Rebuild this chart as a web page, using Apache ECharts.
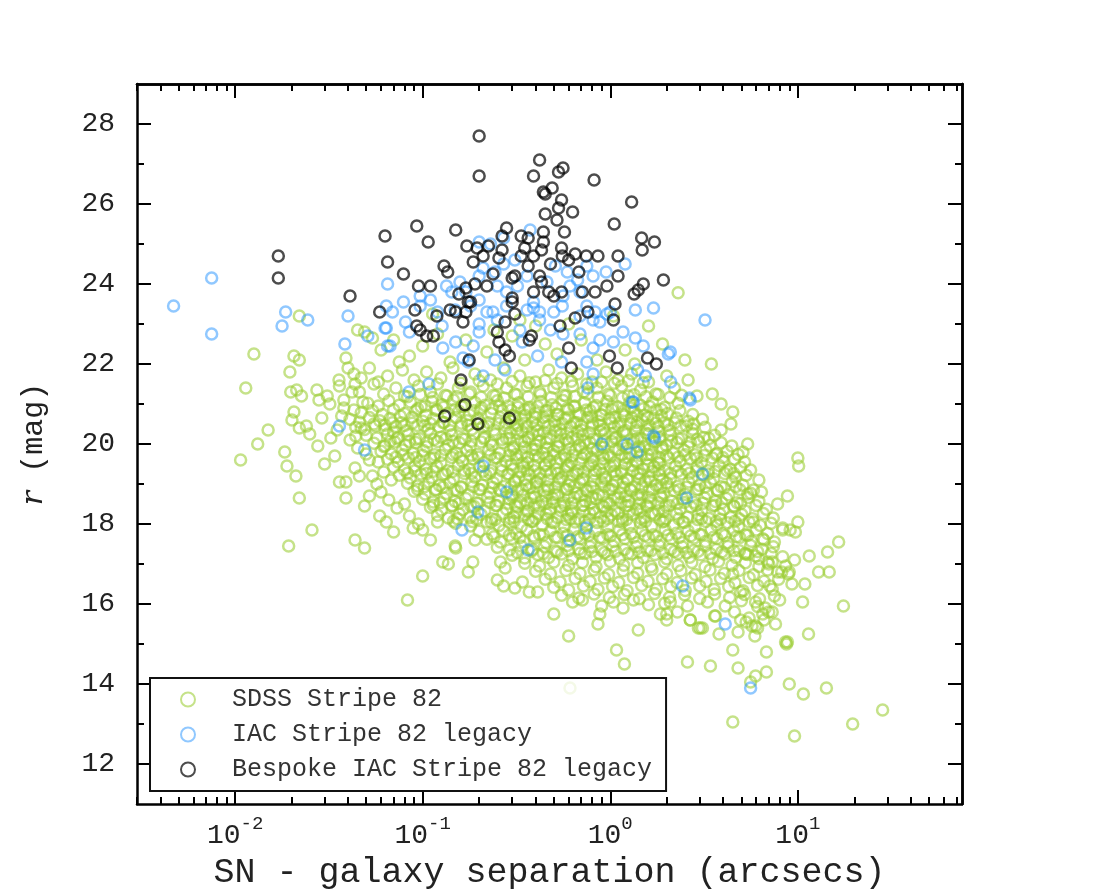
<!DOCTYPE html>
<html>
<head>
<meta charset="utf-8">
<script src="https://cdn.jsdelivr.net/npm/echarts@6/dist/echarts.min.js"></script>
<style>
  html, body { margin: 0; padding: 0; background: #fff; }
  #main { width: 1100px; height: 889px; }
</style>
</head>
<body>
<div id="main"></div>
<script>
// tick values
var xMajor = [0.01, 0.1, 1, 10];
var xMinor = [0.003, 0.004, 0.005, 0.006, 0.007, 0.008, 0.009,
  0.02, 0.03, 0.04, 0.05, 0.06, 0.07, 0.08, 0.09,
  0.2, 0.3, 0.4, 0.5, 0.6, 0.7, 0.8, 0.9,
  2, 3, 4, 5, 6, 7, 8, 9, 20, 30, 40, 50, 60, 70];
var yMajor = [12, 14, 16, 18, 20, 22, 24, 26, 28];
var yMinor = [13, 15, 17, 19, 21, 23, 25, 27];

// SDSS Stripe 82 (separation arcsec, r mag) - outer parts and first pass over the cloud
var sdssOuter = [
  [2.3,23.78],[1.04,23.2],[0.113,23.25],[0.6,23.0],[0.33,23.1],[1.6,22.95],[0.022,23.2],[0.045,22.85],
  [0.0126,22.25],[0.0206,22.2],[0.022,22.1],[0.039,22.15],[0.049,22.8],[0.054,22.65],[0.07,22.6],[0.085,22.2],
  [0.1,22.45],[0.14,22.05],[0.17,22.6],[0.22,22.3],[0.3,22.7],[0.35,22.1],[0.45,22.5],[0.52,22.25],[0.7,22.6],
  [0.85,22.1],[1.2,22.35],[1.35,22.0],[1.9,22.5],[2.5,22.1],[3.46,22.0],[0.075,22.05],[0.06,22.35],[0.12,22.75],
  [0.24,22.85],[0.4,22.95],
  [0.0196,21.8],[0.0358,21.6],[0.043,21.75],[0.052,21.9],[0.065,21.7],[0.078,21.85],[0.09,21.6],[0.105,21.8],
  [0.125,21.65],[0.145,21.9],[0.19,21.75],[0.23,21.6],[0.27,21.9],[0.33,21.7],[0.4,21.55],[0.47,21.85],[0.55,21.65],
  [0.67,21.75],[0.8,21.55],[0.95,21.8],[1.1,21.6],[1.3,21.75],[1.6,21.55],[2.0,21.7],[2.6,21.6],[0.0114,21.4],[3.5,21.25],
  [0.0198,21.3],[0.0213,21.35],[0.0226,21.2],[0.0273,21.35],[0.028,21.1],[0.031,21.2],[0.036,21.45],[0.046,21.3],
  [0.055,21.5],[0.062,21.25],[0.072,21.4],[0.08,21.2],[0.095,21.45],[0.11,21.3],[0.12,21.5],[0.135,21.2],[0.155,21.4],
  [0.18,21.3],[0.21,21.45],[0.245,21.2],[0.28,21.4],[0.31,21.25],[0.36,21.45],[0.42,21.3],[0.5,21.4],[0.58,21.2],
  [0.63,21.45],[0.72,21.3],[0.85,21.4],[0.98,21.25],[1.15,21.45],[1.25,21.2],[1.45,21.35],[1.75,21.25],[2.2,21.4],[2.9,21.2],
  [0.051,21.02],[0.058,20.95],[0.066,21.08],[0.075,20.97],[0.086,21.05],[0.098,20.93],[0.112,21.06],[0.127,20.98],
  [0.146,21.1],[0.166,20.94],[0.19,21.04],[0.215,20.97],[0.25,21.08],[0.285,20.95],[0.325,21.03],[0.37,20.92],
  [0.425,21.06],[0.49,20.98],[0.56,21.09],[0.64,20.94],[0.73,21.03],[0.84,20.96],[0.96,21.07],[1.1,20.93],[1.27,21.04],
  [1.45,20.97],[1.68,21.05],[1.95,20.92],[2.3,21.02],[3.9,21.0],
  [0.0206,20.8],[0.029,20.65],[0.043,20.85],[0.047,20.78],[0.054,20.84],[0.061,20.74],[0.07,20.86],[0.08,20.76],
  [0.092,20.83],[0.104,20.72],[0.119,20.86],[0.136,20.77],[0.156,20.82],[0.178,20.73],[0.203,20.85],[0.232,20.76],
  [0.265,20.84],[0.305,20.72],[0.35,20.86],[0.4,20.77],[0.455,20.83],[0.52,20.74],[0.6,20.85],[0.68,20.76],[0.78,20.84],
  [0.89,20.73],[1.02,20.86],[1.17,20.75],[1.34,20.83],[1.53,20.72],[1.76,20.85],[2.02,20.76],[2.35,20.83],[2.75,20.74],[4.5,20.8],
  [0.0201,20.6],[0.022,20.4],[0.024,20.45],[0.035,20.35],[0.041,20.62],[0.046,20.55],[0.052,20.66],[0.059,20.58],
  [0.067,20.64],[0.077,20.53],[0.088,20.67],[0.1,20.57],[0.114,20.63],[0.13,20.54],[0.15,20.66],[0.172,20.58],
  [0.197,20.64],[0.225,20.53],[0.258,20.66],[0.295,20.57],[0.337,20.63],[0.385,20.55],[0.44,20.67],[0.505,20.56],
  [0.575,20.64],[0.66,20.54],[0.755,20.66],[0.865,20.57],[0.99,20.63],[1.13,20.53],[1.3,20.66],[1.48,20.58],[1.7,20.64],
  [1.95,20.54],[2.25,20.65],[2.6,20.57],[3.1,20.62],[4.4,20.5],
  [0.015,20.35],[0.025,20.25],[0.0324,20.15],[0.044,20.42],[0.049,20.36],[0.056,20.45],[0.063,20.37],[0.072,20.44],
  [0.082,20.34],[0.094,20.46],[0.107,20.36],[0.122,20.43],[0.14,20.33],[0.16,20.45],[0.183,20.37],[0.21,20.44],
  [0.24,20.35],[0.275,20.46],[0.315,20.36],[0.36,20.43],[0.41,20.34],[0.47,20.45],[0.54,20.36],[0.615,20.44],
  [0.705,20.35],[0.805,20.46],[0.92,20.37],[1.05,20.43],[1.2,20.34],[1.38,20.45],[1.58,20.36],[1.8,20.44],[2.07,20.35],
  [2.38,20.45],[2.75,20.37],[3.2,20.42],[3.9,20.35],
  [0.0132,20.0],[0.0276,19.95],[0.05,20.22],[0.057,20.15],[0.065,20.25],[0.074,20.16],[0.084,20.24],[0.096,20.14],
  [0.11,20.26],[0.125,20.17],[0.143,20.23],[0.163,20.13],[0.187,20.25],[0.213,20.16],[0.244,20.24],[0.28,20.14],
  [0.32,20.26],[0.365,20.17],[0.418,20.23],[0.478,20.14],[0.545,20.25],[0.625,20.16],[0.715,20.24],[0.815,20.13],
  [0.935,20.26],[1.07,20.16],[1.22,20.24],[1.4,20.14],[1.6,20.25],[1.83,20.17],[2.1,20.23],[2.4,20.14],[2.75,20.26],
  [3.15,20.16],[3.6,20.22],[5.4,20.0],
  [0.055,20.02],[0.062,19.94],[0.071,20.05],[0.081,19.96],[0.092,20.04],[0.105,19.93],[0.12,20.06],[0.137,19.97],
  [0.157,20.03],[0.179,19.94],[0.205,20.05],[0.234,19.96],[0.268,20.04],[0.306,19.93],[0.35,20.06],[0.4,19.97],
  [0.457,20.03],[0.522,19.94],[0.597,20.05],[0.682,19.96],[0.78,20.04],[0.892,19.93],[1.02,20.06],[1.165,19.97],
  [1.33,20.03],[1.52,19.94],[1.74,20.05],[1.99,19.96],[2.27,20.04],[2.6,19.93],[2.97,20.05],[3.4,19.96],[3.9,20.03],
  [4.45,19.95],[5.1,19.8],
  [0.0184,19.8],[0.0107,19.6],[0.06,19.82],[0.068,19.75],[0.078,19.85],[0.089,19.76],[0.101,19.84],[0.116,19.73],
  [0.132,19.86],[0.151,19.77],[0.172,19.83],[0.197,19.74],[0.225,19.85],[0.257,19.76],[0.294,19.84],[0.336,19.73],
  [0.384,19.86],[0.438,19.77],[0.5,19.83],[0.572,19.74],[0.654,19.85],[0.747,19.76],[0.853,19.84],[0.975,19.73],
  [1.11,19.86],[1.27,19.77],[1.45,19.83],[1.66,19.74],[1.9,19.85],[2.17,19.76],[2.48,19.84],[2.83,19.73],[3.24,19.85],
  [3.7,19.76],[4.2,19.82],[4.8,19.74],[10,19.65],
  [0.0189,19.45],[0.0436,19.4],[0.065,19.62],[0.074,19.55],[0.084,19.65],[0.096,19.56],[0.11,19.64],[0.125,19.53],
  [0.143,19.66],[0.163,19.57],[0.186,19.63],[0.213,19.54],[0.243,19.65],[0.278,19.56],[0.318,19.64],[0.363,19.53],
  [0.415,19.66],[0.474,19.57],[0.542,19.63],[0.619,19.54],[0.707,19.65],[0.808,19.56],[0.923,19.64],[1.055,19.53],
  [1.2,19.66],[1.375,19.57],[1.57,19.63],[1.8,19.54],[2.05,19.65],[2.35,19.56],[2.68,19.64],[3.06,19.53],[3.5,19.65],
  [4.0,19.56],[4.6,19.62],[5.2,19.55],[10.1,19.45],
  [0.0211,19.2],[0.054,19.2],[0.07,19.42],[0.08,19.35],[0.091,19.45],[0.104,19.36],[0.119,19.44],[0.136,19.33],
  [0.155,19.46],[0.177,19.37],[0.202,19.43],[0.231,19.34],[0.264,19.45],[0.302,19.36],[0.345,19.44],[0.394,19.33],
  [0.45,19.46],[0.514,19.37],[0.588,19.43],[0.672,19.34],[0.768,19.45],[0.877,19.36],[1.0,19.44],[1.145,19.33],
  [1.31,19.46],[1.495,19.37],[1.71,19.43],[1.95,19.34],[2.23,19.45],[2.55,19.36],[2.91,19.44],[3.33,19.33],[3.8,19.46],
  [4.35,19.37],[4.95,19.42],[5.6,19.35],
  [0.036,19.05],[0.039,19.05],[0.075,19.22],[0.086,19.15],[0.098,19.25],[0.112,19.16],[0.128,19.24],[0.146,19.13],
  [0.167,19.26],[0.19,19.17],[0.217,19.23],[0.248,19.14],[0.284,19.25],[0.324,19.16],[0.37,19.24],[0.423,19.13],
  [0.483,19.26],[0.552,19.17],[0.63,19.23],[0.72,19.14],[0.823,19.25],[0.94,19.16],[1.075,19.24],[1.228,19.13],
  [1.4,19.26],[1.6,19.17],[1.83,19.23],[2.09,19.14],[2.39,19.25],[2.73,19.16],[3.12,19.24],[3.56,19.13],[4.07,19.26],
  [4.65,19.17],[5.3,19.22],[6.2,19.1],
  [0.083,19.02],[0.094,18.95],[0.108,19.05],[0.123,18.96],[0.14,19.04],[0.16,18.93],[0.183,19.06],[0.208,18.97],
  [0.238,19.03],[0.272,18.94],[0.31,19.05],[0.355,18.96],[0.405,19.04],[0.463,18.93],[0.528,19.06],[0.603,18.97],
  [0.69,19.03],[0.788,18.94],[0.9,19.05],[1.03,18.96],[1.175,19.04],[1.345,18.93],[1.535,19.06],[1.755,18.97],
  [2.0,19.03],[2.29,18.94],[2.62,19.05],[2.99,18.96],[3.42,19.04],[3.9,18.93],[4.47,19.06],[5.1,18.97],[5.8,18.85],
  [0.022,18.65],[0.039,18.65],[0.09,18.82],[0.103,18.75],[0.117,18.85],[0.134,18.76],[0.153,18.84],[0.175,18.73],
  [0.2,18.86],[0.228,18.77],[0.261,18.83],[0.298,18.74],[0.34,18.85],[0.389,18.76],[0.444,18.84],[0.507,18.73],
  [0.58,18.86],[0.662,18.77],[0.757,18.83],[0.864,18.74],[0.987,18.85],[1.128,18.76],[1.29,18.84],[1.473,18.73],
  [1.683,18.86],[1.923,18.77],[2.2,18.83],[2.51,18.74],[2.87,18.85],[3.28,18.76],[3.75,18.84],[4.28,18.73],[4.9,18.86],
  [5.6,18.77],[6.4,18.8],[8.8,18.7],
  [0.049,18.45],[0.1,18.62],[0.114,18.55],[0.13,18.65],[0.149,18.56],[0.17,18.64],[0.194,18.53],[0.222,18.66],
  [0.254,18.57],[0.29,18.63],[0.331,18.54],[0.378,18.65],[0.432,18.56],[0.493,18.64],[0.564,18.53],[0.644,18.66],
  [0.736,18.57],[0.84,18.63],[0.96,18.54],[1.097,18.65],[1.253,18.56],[1.432,18.64],[1.636,18.53],[1.87,18.66],
  [2.136,18.57],[2.44,18.63],[2.79,18.54],[3.19,18.65],[3.64,18.56],[4.16,18.64],[4.75,18.53],[5.43,18.66],[6.2,18.57],
  [0.059,18.2],[0.11,18.42],[0.126,18.35],[0.144,18.45],[0.164,18.36],[0.188,18.44],[0.214,18.33],[0.245,18.46],
  [0.28,18.37],[0.32,18.43],[0.365,18.34],[0.417,18.45],[0.477,18.36],[0.545,18.44],[0.622,18.33],[0.711,18.46],
  [0.812,18.37],[0.928,18.43],[1.06,18.34],[1.21,18.45],[1.385,18.36],[1.58,18.44],[1.806,18.33],[2.063,18.46],
  [2.357,18.37],[2.69,18.43],[3.075,18.34],[3.513,18.45],[4.01,18.36],[4.58,18.44],[5.23,18.33],[5.98,18.46],[6.8,18.37],
  [0.064,18.05],[0.12,18.22],[0.137,18.15],[0.157,18.25],[0.179,18.16],[0.205,18.24],[0.234,18.13],[0.268,18.26],
  [0.306,18.17],[0.35,18.23],[0.4,18.14],[0.457,18.25],[0.522,18.16],[0.596,18.24],[0.681,18.13],[0.778,18.26],
  [0.889,18.17],[1.015,18.23],[1.16,18.14],[1.325,18.25],[1.513,18.16],[1.73,18.24],[1.975,18.13],[2.257,18.26],
  [2.58,18.17],[2.945,18.23],[3.365,18.14],[3.845,18.25],[4.39,18.16],[5.02,18.24],[5.73,18.13],[6.55,18.26],[7.4,18.15],[10,18.05],
  [0.0257,17.85],[0.07,17.8],[0.15,18.02],[0.18,17.95],[0.22,18.05],[0.255,17.96],[0.29,18.04],[0.335,17.93],
  [0.38,18.06],[0.435,17.97],[0.5,18.03],[0.57,17.94],[0.65,18.05],[0.745,17.96],[0.85,18.04],[0.97,17.93],[1.11,18.06],
  [1.27,17.97],[1.45,18.03],[1.66,17.94],[1.9,18.05],[2.17,17.96],[2.48,18.04],[2.83,17.93],[3.24,18.06],[3.7,17.97],
  [4.23,18.03],[4.83,17.94],[5.5,18.05],[6.3,17.96],[7.2,18.02],[9.1,17.85],[9.7,17.8],
  [0.2,17.82],[0.235,17.75],[0.27,17.84],[0.315,17.76],[0.36,17.85],[0.42,17.74],[0.48,17.83],[0.56,17.77],[0.64,17.86],
  [0.73,17.75],[0.84,17.83],[0.97,17.74],[1.12,17.85],[1.29,17.76],[1.48,17.84],[1.7,17.73],[1.96,17.86],[2.25,17.77],
  [2.6,17.83],[3.0,17.74],[3.45,17.85],[3.95,17.76],[4.55,17.84],[5.25,17.73],[6.0,17.85],[6.9,17.76],
  [0.0436,17.6],[0.049,17.4],[0.0193,17.45],[0.22,17.62],[0.26,17.55],[0.3,17.64],[0.345,17.56],[0.395,17.65],
  [0.455,17.54],[0.525,17.66],[0.6,17.57],[0.69,17.63],[0.79,17.54],[0.91,17.65],[1.05,17.56],[1.2,17.64],[1.39,17.53],
  [1.6,17.66],[1.84,17.57],[2.12,17.63],[2.44,17.54],[2.8,17.65],[3.22,17.56],[3.7,17.64],[4.25,17.53],[4.9,17.66],
  [5.65,17.57],[6.5,17.63],[7.5,17.55],[16.5,17.55],
  [0.25,17.42],[0.29,17.35],[0.335,17.45],[0.385,17.36],[0.445,17.44],[0.51,17.33],[0.59,17.46],[0.68,17.37],[0.78,17.43],
  [0.9,17.34],[1.03,17.45],[1.19,17.36],[1.37,17.44],[1.58,17.33],[1.82,17.46],[2.1,17.37],[2.42,17.43],[2.78,17.34],
  [3.2,17.45],[3.68,17.36],[4.24,17.44],[4.88,17.33],[5.6,17.46],[6.45,17.37],[7.4,17.43],[14.4,17.3],[11.5,17.2],
  [0.3,17.22],[0.35,17.15],[0.41,17.24],[0.47,17.16],[0.55,17.25],[0.63,17.13],[0.73,17.26],[0.84,17.17],[0.97,17.23],
  [1.12,17.14],[1.3,17.25],[1.5,17.16],[1.73,17.24],[2.0,17.13],[2.3,17.26],[2.65,17.17],[3.05,17.23],[3.52,17.14],
  [4.05,17.25],[4.67,17.16],[5.4,17.24],[6.2,17.13],[7.2,17.26],[8.3,17.18],
  [0.1,16.7],[0.15,17.4],[0.19,17.6],[0.128,17.05],[0.137,17.0],[0.175,16.8],[0.185,17.05],[0.149,17.45],[0.26,17.05],
  [0.275,16.9],[0.27,16.45],[0.34,16.55],[0.41,16.3],[0.089,17.9],[0.11,17.6],[0.12,18.05],
  [0.35,17.02],[0.42,16.95],[0.5,17.05],[0.6,16.96],[0.71,17.04],[0.84,16.93],[1.0,17.06],[1.18,16.97],[1.4,17.03],
  [1.65,16.94],[1.95,17.05],[2.3,16.96],[2.72,17.04],[3.2,16.93],[3.78,17.06],[4.46,16.97],[5.25,17.03],[6.2,16.94],
  [7.3,17.05],[8.6,16.95],
  [0.4,16.82],[0.48,16.75],[0.58,16.84],[0.69,16.76],[0.82,16.85],[0.98,16.74],[1.17,16.83],[1.4,16.77],[1.67,16.86],
  [2.0,16.75],[2.38,16.83],[2.84,16.74],[3.4,16.85],[4.05,16.76],[4.85,16.84],[5.8,16.73],[6.9,16.85],[8.9,16.75],
  [12.9,16.8],[14.7,16.8],[9.0,16.8],
  [0.25,16.6],[0.45,16.62],[0.54,16.55],[0.65,16.64],[0.78,16.56],[0.93,16.65],[1.11,16.54],[1.33,16.66],[1.59,16.57],
  [1.9,16.63],[2.27,16.54],[2.71,16.65],[3.24,16.56],[3.87,16.64],[4.62,16.53],[5.5,16.66],[6.6,16.57],[7.9,16.62],
  [0.31,16.4],[0.37,16.3],[0.5,16.42],[0.6,16.35],[0.72,16.45],[0.86,16.36],[1.03,16.44],[1.23,16.33],[1.47,16.46],
  [1.76,16.37],[2.1,16.43],[2.51,16.34],[3.0,16.45],[3.58,16.36],[4.28,16.44],[5.1,16.33],[6.1,16.46],[7.3,16.37],[10.9,16.5],
  [0.55,16.22],[0.68,16.15],[0.82,16.25],[0.99,16.16],[1.19,16.24],[1.43,16.13],[1.72,16.26],[2.07,16.17],[2.49,16.23],
  [3.0,16.14],[3.6,16.25],[4.33,16.16],[5.2,16.24],[6.25,16.13],[7.5,16.2],
  [0.083,16.1],[0.63,16.05],[0.71,16.1],[0.9,15.95],[1.04,16.05],[1.17,15.9],[1.33,16.1],[1.6,15.98],[1.95,16.02],
  [2.58,15.95],[3.3,16.05],[4.1,15.95],[5.0,16.08],[6.1,15.94],[7.3,15.8],[10.6,16.05],[17.5,15.95],
  [0.5,15.75],[0.88,15.75],[1.85,15.75],[2.0,15.6],[2.28,15.8],[2.67,15.6],[3.6,15.7],[4.6,15.8],[5.5,15.65],[6.5,15.75],
  [0.86,15.5],[1.41,15.35],[2.95,15.4],[3.1,15.4],[4.8,15.3],[5.7,15.45],[6.1,15.4],[0.6,15.2],[11.4,15.25],[8.8,15.05],
  [3.8,15.25],[5.3,15.55],[6.6,15.6],
  [1.08,14.85],[1.19,14.5],[2.58,14.55],[3.42,14.45],[4.8,14.4],[4.5,14.85],[5.95,14.2],[6.8,14.3],[5.6,14.05],
  [9.0,14.0],[10.7,13.75],[14.2,13.9],[8.7,15.0],[0.61,13.9],
  [28.3,13.35],[19.6,13.0],[4.5,13.05],[9.6,12.7],
  [7.8,18.5],[8.3,17.9],[7.1,16.45],[8.0,16.1],[9.3,16.5],[6.7,15.9],[7.6,15.5],[8.2,16.8],[9.6,17.1],[7.0,17.0],
  [5.9,15.2],[6.8,14.8],[5.4,18.75],[8.3,17.85],[6.6,17.6],[5.95,17.2],[6.9,17.05],[7.8,16.8],[4.95,16.3],[5.95,16.05],
  [7.0,15.8],[5.95,15.45],[4.95,15.6],[4.5,16.75],[5.25,17.25],[3.64,15.7],[3.02,15.4],[2.67,15.6],[2.0,15.75],
  [2.09,16.05],[8.6,15.05],
  [0.032,21.0],[0.037,20.7],[0.041,20.1],[0.034,19.7],[0.045,19.9],[0.047,20.4],[0.038,21.1],[0.042,21.3],[0.048,21.05],
  [0.052,19.6],[0.046,19.2],[0.057,19.0],[0.06,18.8],[0.066,18.6],[0.073,18.4],[0.08,18.5],[0.052,18.7],[0.085,18.2],
  [0.095,18.0],[0.1,17.85],[0.062,19.3],[0.068,19.1],[0.03,19.5],[0.04,21.9],[0.047,21.65],[0.058,21.55],[0.038,20.9],
  [0.055,20.5],[0.044,20.2],[0.05,19.75],[0.058,19.55],[0.063,19.95],[0.07,20.3],[0.076,20.7],[0.0436,21.5]
];

// SDSS Stripe 82 - second pass over the dense core
var sdssCore = [
  [0.083,21.18],[0.097,21.24],[0.113,21.16],[0.132,21.22],[0.152,21.19],[0.177,21.25],[0.205,21.17],[0.238,21.21],
  [0.272,21.15],[0.318,21.23],[0.365,21.18],[0.425,21.24],[0.485,21.16],[0.565,21.22],[0.65,21.19],[0.755,21.25],
  [0.865,21.17],[1.0,21.21],[1.16,21.15],[1.34,21.23],[1.55,21.18],[1.8,21.24],[2.08,21.16],[2.4,21.22],
  [0.16,21.52],[0.2,21.58],[0.25,21.5],[0.3,21.56],[0.37,21.53],[0.45,21.59],[0.52,21.51],[0.62,21.57],[0.75,21.5],
  [0.9,21.55],[1.05,21.52],[1.25,21.58],[1.5,21.53],
  [0.094,20.88],[0.103,20.95],[0.118,20.84],[0.129,20.92],[0.149,20.87],[0.161,20.94],[0.187,20.83],[0.205,20.91],
  [0.236,20.89],[0.257,20.95],[0.296,20.85],[0.322,20.92],[0.372,20.86],[0.409,20.94],[0.47,20.84],[0.514,20.9],
  [0.59,20.89],[0.648,20.95],[0.745,20.85],[0.815,20.91],[0.94,20.87],[1.03,20.93],[1.19,20.84],[1.29,20.9],[1.5,20.88],
  [1.62,20.94],[1.88,20.86],
  [0.063,20.47],[0.069,20.53],[0.08,20.46],[0.088,20.52],[0.102,20.45],[0.11,20.51],[0.128,20.54],[0.139,20.46],
  [0.161,20.52],[0.175,20.47],[0.203,20.53],[0.221,20.45],[0.255,20.51],[0.278,20.54],[0.321,20.46],[0.35,20.52],
  [0.404,20.47],[0.441,20.53],[0.509,20.45],[0.554,20.51],[0.641,20.54],[0.698,20.46],[0.806,20.52],[0.879,20.47],
  [1.015,20.53],[1.105,20.45],[1.28,20.51],[1.39,20.54],[1.61,20.46],[1.75,20.52],[2.03,20.47],[2.21,20.53],[2.55,20.45],[2.78,20.5],
  [0.067,20.07],[0.073,20.13],[0.085,20.06],[0.092,20.12],[0.106,20.05],[0.115,20.11],[0.133,20.14],[0.145,20.06],
  [0.168,20.12],[0.182,20.07],[0.212,20.13],[0.23,20.05],[0.266,20.11],[0.29,20.14],[0.336,20.06],[0.365,20.12],
  [0.422,20.07],[0.46,20.13],[0.532,20.05],[0.579,20.11],[0.67,20.14],[0.73,20.06],[0.844,20.12],[0.918,20.07],
  [1.062,20.13],[1.155,20.05],[1.337,20.11],[1.455,20.14],[1.683,20.06],[1.835,20.12],[2.12,20.07],[2.31,20.13],
  [2.67,20.05],[2.91,20.11],[3.36,20.14],
  [0.072,19.67],[0.079,19.73],[0.092,19.66],[0.1,19.72],[0.115,19.65],[0.125,19.71],[0.145,19.74],[0.158,19.66],
  [0.182,19.72],[0.198,19.67],[0.23,19.73],[0.25,19.65],[0.289,19.71],[0.315,19.74],[0.364,19.66],[0.397,19.72],
  [0.459,19.67],[0.5,19.73],[0.578,19.65],[0.629,19.71],[0.727,19.74],[0.792,19.66],[0.915,19.72],[0.998,19.67],
  [1.152,19.73],[1.255,19.65],[1.455,19.71],[1.58,19.74],[1.83,19.66],[1.995,19.72],[2.3,19.67],[2.51,19.73],
  [2.9,19.65],[3.16,19.71],[3.65,19.74],[3.98,19.66],
  [0.083,19.27],[0.091,19.33],[0.105,19.26],[0.114,19.32],[0.132,19.25],[0.144,19.31],[0.167,19.34],[0.182,19.26],
  [0.21,19.32],[0.228,19.27],[0.264,19.33],[0.288,19.25],[0.333,19.31],[0.362,19.34],[0.419,19.26],[0.456,19.32],
  [0.527,19.27],[0.575,19.33],[0.664,19.25],[0.723,19.31],[0.836,19.34],[0.91,19.26],[1.053,19.32],[1.146,19.27],
  [1.323,19.33],[1.442,19.25],[1.668,19.31],[1.817,19.34],[2.097,19.26],[2.29,19.32],[2.645,19.27],[2.88,19.33],
  [3.33,19.25],[3.62,19.31],[4.19,19.34],[4.56,19.26],
  [0.094,18.87],[0.102,18.93],[0.118,18.86],[0.128,18.92],[0.148,18.85],[0.161,18.91],[0.186,18.94],[0.203,18.86],
  [0.235,18.92],[0.256,18.87],[0.295,18.93],[0.322,18.85],[0.372,18.91],[0.405,18.94],[0.468,18.86],[0.51,18.92],
  [0.589,18.87],[0.642,18.93],[0.741,18.85],[0.808,18.91],[0.934,18.94],[1.017,18.86],[1.175,18.92],[1.28,18.87],
  [1.479,18.93],[1.61,18.85],[1.862,18.91],[2.03,18.94],[2.34,18.86],[2.553,18.92],[2.95,18.87],[3.215,18.93],
  [3.71,18.85],[4.05,18.91],[4.68,18.94],
  [0.114,18.47],[0.124,18.53],[0.143,18.46],[0.156,18.52],[0.181,18.45],[0.197,18.51],[0.228,18.54],[0.248,18.46],
  [0.287,18.52],[0.312,18.47],[0.361,18.53],[0.393,18.45],[0.455,18.51],[0.495,18.54],[0.572,18.46],[0.623,18.52],
  [0.72,18.47],[0.784,18.53],[0.906,18.45],[0.988,18.51],[1.14,18.54],[1.244,18.46],[1.435,18.52],[1.56,18.47],
  [1.81,18.53],[1.975,18.45],[2.28,18.51],[2.48,18.54],[2.87,18.46],[3.12,18.52],[3.61,18.47],[3.93,18.53],
  [4.55,18.45],[4.95,18.51],
  [0.146,18.07],[0.153,18.13],[0.184,18.06],[0.194,18.12],[0.232,18.05],[0.244,18.11],[0.292,18.14],[0.307,18.06],
  [0.367,18.12],[0.387,18.07],[0.462,18.13],[0.487,18.05],[0.582,18.11],[0.613,18.14],[0.733,18.06],[0.772,18.12],
  [0.922,18.07],[0.972,18.13],[1.16,18.05],[1.224,18.11],[1.46,18.14],[1.54,18.06],[1.84,18.12],[1.94,18.07],
  [2.32,18.13],[2.44,18.05],[2.92,18.11],[3.07,18.14],[3.67,18.06],[3.87,18.12],[4.62,18.07],[4.87,18.13],[5.8,18.05],
  [0.31,20.68],[0.352,20.72],[0.398,20.66],[0.458,20.7],[0.528,20.73],[0.595,20.67],[0.686,20.71],[0.795,20.68],
  [0.905,20.72],[1.06,20.66],[1.19,20.7],[1.39,20.73],[1.58,20.67],[1.87,20.71],
  [0.292,20.28],[0.338,20.32],[0.385,20.26],[0.442,20.3],[0.51,20.33],[0.588,20.27],[0.672,20.31],[0.778,20.28],
  [0.885,20.32],[1.03,20.26],[1.17,20.3],[1.36,20.33],[1.55,20.27],[1.81,20.31],
  [0.305,19.88],[0.348,19.92],[0.401,19.86],[0.46,19.9],[0.532,19.93],[0.605,19.87],[0.7,19.91],[0.805,19.88],
  [0.925,19.92],[1.07,19.86],[1.22,19.9],[1.42,19.93],[1.62,19.87],[1.89,19.91],
  [0.296,19.48],[0.342,19.52],[0.392,19.46],[0.45,19.5],[0.52,19.53],[0.597,19.47],[0.688,19.51],[0.79,19.48],
  [0.91,19.52],[1.045,19.46],[1.2,19.5],[1.39,19.53],[1.59,19.47],[1.84,19.51],
  [0.31,19.08],[0.355,19.12],[0.405,19.06],[0.468,19.1],[0.538,19.13],[0.615,19.07],[0.71,19.11],[0.815,19.08],
  [0.94,19.12],[1.08,19.06],[1.24,19.1],[1.43,19.13],[1.64,19.07],[1.9,19.11],
  [0.3,18.68],[0.345,18.72],[0.395,18.66],[0.455,18.7],[0.525,18.73],[0.6,18.67],[0.693,18.71],[0.8,18.68],
  [0.915,18.72],[1.055,18.66],[1.21,18.7],[1.395,18.73],[1.6,18.67],[1.85,18.71],
  [0.315,18.28],[0.36,18.32],[0.412,18.26],[0.475,18.3],[0.546,18.33],[0.625,18.27],[0.72,18.31],[0.83,18.28],
  [0.955,18.32],[1.1,18.26],[1.26,18.3],[1.45,18.33],[1.67,18.27],[1.93,18.31],
  [0.24,17.68],[0.29,17.72],[0.33,17.66],[0.39,17.7],[0.44,17.73],[0.51,17.67],[0.59,17.71],[0.67,17.68],[0.77,17.72],
  [0.88,17.66],[1.0,17.7],[1.16,17.73],[1.33,17.67],[1.53,17.71],[1.76,17.68],[2.03,17.72],[2.33,17.66],[2.68,17.7],
  [3.08,17.73],[3.55,17.67],[4.08,17.71],[4.7,17.68],[5.4,17.72],
  [0.32,17.28],[0.38,17.32],[0.44,17.26],[0.52,17.3],[0.6,17.33],[0.69,17.27],[0.8,17.31],[0.93,17.28],[1.07,17.32],
  [1.24,17.26],[1.43,17.3],[1.65,17.33],[1.91,17.27],[2.2,17.31],[2.55,17.28],[2.94,17.32],[3.4,17.26],[3.93,17.3],
  [4.55,17.33],[5.25,17.27],[6.1,17.31]
];

// IAC Stripe 82 legacy
var iac = [
  [0.0047,23.45],[0.0075,24.15],[0.0075,22.75],[0.0186,23.3],[0.0178,22.95],[0.0244,23.1],[0.04,23.2],[0.0385,22.5],
  [0.065,24.0],[0.063,22.9],[0.065,22.45],[0.069,23.3],[0.051,22.7],[0.036,20.45],[0.049,19.85],[0.0845,21.3],
  [0.21,19.45],[0.197,18.3],[0.28,18.8],[0.162,17.85],[0.365,17.35],[0.745,17.9],[0.61,17.6],[0.9,20.0],[1.23,20.0],
  [1.39,19.8],[1.72,20.15],[3.1,19.25],[2.55,18.65],[2.43,16.45],[4.1,15.5],[5.6,13.9],[2.67,21.1],[3.2,23.1],
  [1.7,23.4],[2.04,22.25],[1.31,21.05],
  [0.374,25.35],[0.2,25.05],[0.23,25.0],[0.27,25.15],[0.079,23.55],[0.097,23.45],[0.11,23.6],[0.134,23.95],
  [0.143,23.8],[0.12,23.3],[0.158,24.05],[0.2,24.2],[0.21,24.4],[0.243,24.3],[0.2,23.6],[0.237,23.3],[0.28,23.45],
  [0.36,23.35],[0.39,23.55],[0.42,23.3],[0.5,23.3],[0.555,23.45],[0.56,23.7],[0.61,23.95],[0.51,24.45],[0.59,24.3],
  [0.75,24.45],[0.81,24.2],[0.67,24.1],[0.69,23.8],[0.83,23.3],[0.75,23.45],[1.0,23.3],[1.36,23.35],[0.36,24.2],
  [0.32,23.95],[0.25,23.95],[0.28,23.8],[0.17,23.8],[0.18,23.45],[0.149,23.35],[0.097,23.7],
  [0.064,23.45],[0.081,23.05],[0.064,22.9],[0.067,22.45],[0.085,22.8],[0.127,22.95],[0.128,22.4],[0.15,22.55],
  [0.164,22.15],[0.186,22.45],[0.2,23.0],[0.22,23.3],[0.25,23.1],[0.2,22.8],[0.33,22.85],[0.34,22.55],[0.39,23.4],
  [0.42,23.1],[0.48,22.85],[0.41,22.2],[0.56,22.75],[0.69,23.2],[0.81,23.1],[0.88,23.05],[0.69,22.75],[0.88,22.6],
  [1.04,22.55],[1.17,22.8],[0.96,23.25],[0.81,22.4],[0.75,22.05],[0.55,22.05],[0.275,21.85],[0.243,22.1],[0.21,21.7],
  [0.175,22.05],[0.81,21.75],[0.76,21.4],[1.33,21.05],[1.4,21.85],[1.54,21.7],[1.5,22.45],[2.09,22.3],[2.1,21.55],
  [2.64,21.15],[0.108,21.5],[1.7,20.2],[1.36,22.65],[0.31,24.6],[0.46,24.05],[0.95,24.3],[1.2,24.5],[0.27,24.5]
];

// Bespoke IAC Stripe 82 legacy
var bespoke = [
  [0.2,27.7],[0.2,26.7],[0.42,27.1],[0.39,26.7],[0.56,26.9],[0.53,26.8],[0.82,26.6],[0.49,26.4],[0.44,26.3],
  [0.45,26.25],[1.3,26.05],[0.55,26.1],[0.53,25.9],[0.63,25.8],[0.45,25.75],[0.52,25.6],[1.05,25.5],[0.093,25.45],
  [0.15,25.35],[0.28,25.4],[0.44,25.3],[0.57,25.3],[0.063,25.2],[0.107,25.05],[0.265,25.2],[0.335,25.2],[0.365,25.15],
  [0.44,25.05],[1.47,25.15],[1.72,25.05],[1.48,24.85],[0.172,24.95],[0.195,24.9],[0.224,24.95],[0.265,24.85],
  [0.35,24.9],[0.43,24.85],[0.55,24.9],[0.65,24.75],[0.745,24.7],[0.86,24.7],[1.1,24.7],[0.065,24.55],[0.13,24.45],
  [0.136,24.3],[0.186,24.55],[0.21,24.7],[0.255,24.65],[0.335,24.7],[0.365,24.45],[0.39,24.7],[0.48,24.5],
  [0.555,24.7],[0.6,24.6],[0.68,24.3],[1.1,24.2],[1.92,24.1],[0.079,24.25],[0.095,23.95],[0.11,23.95],[0.237,24.25],
  [0.3,24.15],[0.31,24.2],[0.42,24.2],[0.43,24.05],[0.19,24.0],[0.22,23.95],[0.17,23.9],[0.156,23.75],[0.175,23.55],
  [0.15,23.3],[0.091,23.35],[0.39,23.8],[0.47,23.8],[0.5,23.7],[0.55,23.8],[0.71,23.8],[0.83,23.8],[0.96,23.95],
  [1.06,23.5],[0.76,23.3],[1.34,23.75],[1.41,23.85],[1.5,24.0],[0.3,23.65],[0.3,23.55],[0.059,23.3],[0.017,24.7],
  [0.017,24.15],[0.041,23.7],[0.093,22.95],[0.097,22.85],[0.105,22.7],[0.114,22.7],[0.119,23.2],[0.14,23.35],
  [0.164,23.05],[0.17,23.3],[0.18,23.55],[0.25,22.8],[0.255,22.55],[0.275,22.35],[0.29,22.2],[0.275,23.05],
  [0.31,23.25],[0.37,22.6],[0.38,22.7],[0.54,22.95],[0.65,23.15],[0.6,22.4],[0.62,21.9],[1.04,23.1],[0.99,22.2],
  [1.09,21.9],[1.58,22.15],[1.76,22.0],[0.16,21.6],[0.168,20.98],[0.131,20.7],[0.197,20.5],[0.29,20.65],[0.177,22.1]
];

var MONO = '"Liberation Mono", "DejaVu Sans Mono", monospace';
var X_MIN = 0.003, X_MAX = 75, Y_MIN = 11, Y_MAX = 29;

function xAxisCfg(pos, ticks, len, withLabels) {
  return {
    type: 'log', position: pos, min: X_MIN, max: X_MAX,
    axisLine: { show: withLabels || pos === 'top', onZero: false, lineStyle: { color: '#000', width: 2.5 } },
    axisTick: { show: true, inside: true, length: len, customValues: ticks, lineStyle: { color: '#000', width: 2 } },
    axisLabel: withLabels ? {
      customValues: ticks, margin: 10, color: '#222',
      formatter: function (v) {
        var e = Math.round(Math.log10(v));
        return '{b|10}{s|' + (e < 0 ? '-' : '') + Math.abs(e) + '}';
      },
      rich: {
        b: { fontFamily: MONO, fontSize: 28, color: '#222', verticalAlign: 'bottom', lineHeight: 36 },
        s: { fontFamily: MONO, fontSize: 19, color: '#222', verticalAlign: 'top', lineHeight: 20 }
      }
    } : { show: false },
    splitLine: { show: false }
  };
}
function yAxisCfg(pos, ticks, len, withLabels) {
  return {
    type: 'value', position: pos, min: Y_MIN, max: Y_MAX,
    axisLine: { show: withLabels || pos === 'right', onZero: false, lineStyle: { color: '#000', width: 2.5 } },
    axisTick: { show: true, inside: true, length: len, customValues: ticks, lineStyle: { color: '#000', width: 2 } },
    axisLabel: withLabels ? { customValues: ticks, margin: 22, fontFamily: MONO, fontSize: 28, color: '#222' } : { show: false },
    splitLine: { show: false }
  };
}

var xMain = xAxisCfg('bottom', xMajor, 14, true);
xMain.name = 'SN - galaxy separation (arcsecs)';
xMain.nameLocation = 'middle';
xMain.nameGap = 42;
xMain.nameTextStyle = { fontFamily: MONO, fontSize: 35, color: '#222' };

var yMain = yAxisCfg('left', yMajor, 14, true);
yMain.name = '{i|r} (mag)';
yMain.nameLocation = 'middle';
yMain.nameGap = 88;
yMain.nameTextStyle = {
  fontFamily: MONO, fontSize: 30, color: '#222',
  rich: { i: { fontFamily: '"DejaVu Serif", serif', fontStyle: 'italic', fontSize: 30, color: '#222' } }
};

function scatter(name, data, stroke) {
  return {
    name: name, type: 'scatter', data: data,
    xAxisIndex: 0, yAxisIndex: 0,
    symbol: 'circle', symbolSize: 11,
    itemStyle: { color: 'rgba(0,0,0,0)', borderColor: stroke, borderWidth: 2.5 },
    emphasis: { disabled: true }, silent: true, clip: true
  };
}

var chart = echarts.init(document.getElementById('main'), null, { renderer: 'canvas' });
chart.setOption({
  animation: false,
  backgroundColor: '#fff',
  grid: { left: 137, right: 138, top: 84, bottom: 85, containLabel: false, outerBoundsMode: 'none' },
  xAxis: [
    xMain,
    xAxisCfg('bottom', xMinor, 7, false),
    xAxisCfg('top', xMajor, 14, false),
    xAxisCfg('top', xMinor, 7, false)
  ],
  yAxis: [
    yMain,
    yAxisCfg('left', yMinor, 7, false),
    yAxisCfg('right', yMajor, 14, false),
    yAxisCfg('right', yMinor, 7, false)
  ],
  legend: {
    orient: 'vertical', left: 150, top: 678,
    itemWidth: 14, itemHeight: 14, itemGap: 10,
    padding: [9, 14, 9, 30],
    backgroundColor: 'rgba(255,255,255,0.8)',
    borderColor: '#111', borderWidth: 2, borderRadius: 0,
    textStyle: { fontFamily: MONO, fontSize: 25, color: '#333', lineHeight: 25, padding: [0, 0, 0, 32] },
    data: ['SDSS Stripe 82', 'IAC Stripe 82 legacy', 'Bespoke IAC Stripe 82 legacy'],
    selectedMode: false
  },
  series: [
    scatter('SDSS Stripe 82', sdssOuter.concat(sdssCore), 'rgba(154,205,50,0.72)'),
    scatter('IAC Stripe 82 legacy', iac, 'rgba(30,144,255,0.62)'),
    scatter('Bespoke IAC Stripe 82 legacy', bespoke, 'rgba(0,0,0,0.88)')
  ]
});
</script>
</body>
</html>
